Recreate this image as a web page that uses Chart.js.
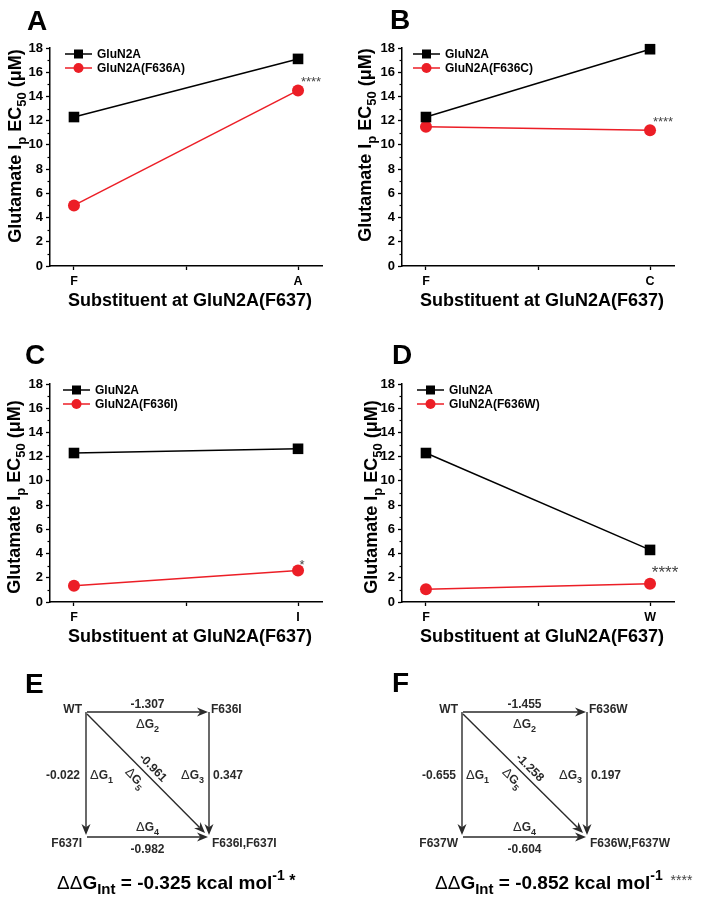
<!DOCTYPE html>
<html>
<head>
<meta charset="utf-8">
<script src="https://cdn.jsdelivr.net/npm/chart.js@4.4.1/dist/chart.umd.min.js"></script>
<style>
	body { margin: 0; background: #fff; }
	#fig { position: relative; width: 704px; height: 901px; background: #fff; overflow: hidden; }
	#fig canvas { position: absolute; }
</style>
</head>
<body>
<div id="fig">
	<canvas id="pA" width="352" height="310" style="left:0;top:0"></canvas>
	<canvas id="pB" width="352" height="310" style="left:352px;top:0"></canvas>
	<canvas id="pC" width="352" height="310" style="left:0;top:336px"></canvas>
	<canvas id="pD" width="352" height="310" style="left:352px;top:336px"></canvas>
	<canvas id="pE" width="352" height="251" style="left:0;top:650px"></canvas>
	<canvas id="pF" width="352" height="251" style="left:352px;top:650px"></canvas>
</div>
<script>
// --- Data ---
const panelLetters = ["A", "B", "C", "D", "E", "F"];
const xPositions = [0, 1];
const xTickValues = [0, 0.5, 1];
const substituents = [["F", "A"], ["F", "C"], ["F", "I"], ["F", "W"]];
const wildTypeLabel = "GluN2A";
const wildTypeEC50 = [[12.3, 17.1], [12.3, 17.9], [12.3, 12.65], [12.3, 4.3]];
const mutantLabels = ["GluN2A(F636A)", "GluN2A(F636C)", "GluN2A(F636I)", "GluN2A(F636W)"];
const mutantEC50 = [[5.0, 14.5], [11.5, 11.2], [1.35, 2.6], [1.05, 1.5]];
const significance = [["", "****"], ["", "****"], ["", "*"], ["", "****"]];
const yMin = 0;
const yMax = 18;
const yStep = 2;

// double mutant cycles (E, F): WT, single 636, single 637, double
const cycleNodes = [
	["WT", "F636I", "F637I", "F636I,F637I"],
	["WT", "F636W", "F637W", "F636W,F637W"],
];
// ΔG1..ΔG5 (kcal/mol)
const cycleDeltaG = [
	[-0.022, -1.307, 0.347, -0.982, -0.961],
	[-0.655, -1.455, 0.197, -0.604, -1.258],
];
const ddGInt = [-0.325, -0.852];
const ddGSignificance = ["*", "****"];
// node layout on a unit square: WT top-left, 636 top-right, 637 bottom-left, double bottom-right
const cycleCornerX = [0, 1, 0, 1];
const cycleCornerY = [1, 1, 0, 0];
// [from, to] for ΔG1..ΔG5
const cycleEdges = [[0, 2], [0, 1], [1, 3], [2, 3], [0, 3]];

// --- Styles ---
const FONT = '"Liberation Sans", Arial, Helvetica, sans-serif';
const RED = "rgb(236, 30, 38)";
const INK = "#2a2a2a";
Chart.defaults.font.family = FONT;

const LINE_PANELS = [
	{ id: "pA", letterX: 27, letterY: 30, titleX: 14, titleDy: -11, legendDx: 0, sigDx: 13, sigDy: -12, sigSize: 13 },
	{ id: "pB", letterX: 38, letterY: 29, titleX: 12, titleDy: -12, legendDx: -4, sigDx: 13, sigDy: -12, sigSize: 13 },
	{ id: "pC", letterX: 25, letterY: 28, titleX: 13, titleDy: 4, legendDx: -2, sigDx: 4, sigDy: -9, sigSize: 13 },
	{ id: "pD", letterX: 40, letterY: 28, titleX: 18, titleDy: 4, legendDx: 0, sigDx: 15, sigDy: -16, sigSize: 17 },
];
const CYCLE_PANELS = [
	{ id: "pE", letterX: 25, letterY: 43, pad: { left: 86, right: 143, top: 62, bottom: 64 }, ddgX: 57 },
	{ id: "pF", letterX: 40, letterY: 42, pad: { left: 110, right: 117, top: 62, bottom: 64 }, ddgX: 83 },
];

// --- Helpers ---
function drawRich(ctx, parts, x, y, align) {
	let w = 0;
	parts.forEach((p) => {
		ctx.font = p.font;
		p.w = ctx.measureText(p.text).width;
		w += p.w;
	});
	let cx = align === "center" ? x - w / 2 : align === "right" ? x - w : x;
	ctx.textAlign = "left";
	ctx.textBaseline = "alphabetic";
	parts.forEach((p) => {
		ctx.font = p.font;
		ctx.fillStyle = p.color || ctx.fillStyle;
		ctx.fillText(p.text, cx, y + (p.dy || 0));
		cx += p.w;
	});
}

function seg(ctx, x1, y1, x2, y2) {
	ctx.beginPath();
	ctx.moveTo(x1, y1);
	ctx.lineTo(x2, y2);
	ctx.stroke();
}

function arrow(ctx, x1, y1, x2, y2) {
	const a = Math.atan2(y2 - y1, x2 - x1);
	const len = 11, half = 4.5;
	const c = Math.cos(a), s = Math.sin(a);
	seg(ctx, x1, y1, x2 - len * 0.7 * c, y2 - len * 0.7 * s);
	ctx.beginPath();
	ctx.moveTo(x2, y2);
	ctx.lineTo(x2 - len * c + half * s, y2 - len * s - half * c);
	ctx.lineTo(x2 - len * 0.7 * c, y2 - len * 0.7 * s);
	ctx.lineTo(x2 - len * c - half * s, y2 - len * s + half * c);
	ctx.closePath();
	ctx.fill();
}

function deltaG(n) {
	return [
		{ text: "Δ", font: `13px ${FONT}` },
		{ text: "G", font: `bold 12px ${FONT}` },
		{ text: String(n), font: `bold 9px ${FONT}`, dy: 4 },
	];
}

function bold12(t) {
	return [{ text: t, font: `bold 12px ${FONT}` }];
}

// --- Line panels (A-D) ---
const linePanelDecor = {
	id: "linePanelDecor",
	afterDraw(chart, args, opts) {
		const { ctx, chartArea, scales } = chart;
		const i = opts.index;
		const p = LINE_PANELS[i];
		ctx.save();

		// minor ticks on y
		ctx.strokeStyle = "#000";
		ctx.lineWidth = 1.2;
		for (let v = yMin + yStep / 2; v < yMax; v += yStep) {
			const y = Math.round(scales.y.getPixelForValue(v)) + 0.5;
			seg(ctx, chartArea.left - 2.5, y, chartArea.left, y);
		}

		// panel letter
		ctx.fillStyle = "#000";
		ctx.font = `bold 28px ${FONT}`;
		ctx.textAlign = "left";
		ctx.textBaseline = "alphabetic";
		ctx.fillText(panelLetters[i], p.letterX, p.letterY);

		// legend
		chart.data.datasets.forEach((ds, k) => {
			const y = chartArea.top + 6 + k * 14;
			const x0 = chartArea.left + 15 + p.legendDx;
			ctx.strokeStyle = ds.borderColor;
			ctx.lineWidth = 1.5;
			seg(ctx, x0, y, x0 + 27, y);
			ctx.fillStyle = ds.backgroundColor;
			if (ds.pointStyle === "rect") {
				ctx.fillRect(x0 + 13.5 - 4.5, y - 4.5, 9, 9);
			} else {
				ctx.beginPath();
				ctx.arc(x0 + 13.5, y, 5, 0, Math.PI * 2);
				ctx.fill();
			}
			ctx.fillStyle = "#000";
			ctx.font = `bold 12px ${FONT}`;
			ctx.textBaseline = "middle";
			ctx.fillText(ds.label, x0 + 32, y + 0.5);
		});

		// y title with subscripts
		const cy = (chartArea.top + chartArea.bottom) / 2 + p.titleDy;
		ctx.save();
		ctx.translate(p.titleX, cy);
		ctx.rotate(-Math.PI / 2);
		ctx.fillStyle = "#000";
		drawRich(ctx, [
			{ text: "Glutamate I", font: `bold 18px ${FONT}` },
			{ text: "p", font: `bold 13px ${FONT}`, dy: 5 },
			{ text: " EC", font: `bold 18px ${FONT}` },
			{ text: "50", font: `bold 13px ${FONT}`, dy: 5 },
			{ text: " (μM)", font: `bold 18px ${FONT}` },
		], 0, 6.5, "center");
		ctx.restore();

		// x title
		ctx.fillStyle = "#000";
		ctx.font = `bold 18px ${FONT}`;
		ctx.textAlign = "center";
		ctx.textBaseline = "middle";
		ctx.fillText("Substituent at GluN2A(F637)", (chartArea.left + chartArea.right) / 2 + 4, 301);

		// significance stars on mutant series
		const meta = chart.getDatasetMeta(1);
		significance[i].forEach((s, j) => {
			if (!s) return;
			const pt = meta.data[j];
			ctx.fillStyle = "#444";
			ctx.font = `${p.sigSize}px ${FONT}`;
			ctx.textAlign = "center";
			ctx.textBaseline = "alphabetic";
			ctx.fillText(s, pt.x + p.sigDx, pt.y + p.sigDy + p.sigSize * 0.58);
		});
		ctx.restore();
	},
};

function makeLineChart(i) {
	const p = LINE_PANELS[i];
	const subs = substituents[i];
	new Chart(document.getElementById(p.id), {
		type: "line",
		data: {
			datasets: [
				{
					label: wildTypeLabel,
					data: xPositions.map((x, j) => ({ x, y: wildTypeEC50[i][j] })),
					borderColor: "#000",
					backgroundColor: "#000",
					borderWidth: 1.5,
					pointStyle: "rect",
					pointRadius: 7.5,
					pointBorderWidth: 0,
					clip: false,
				},
				{
					label: mutantLabels[i],
					data: xPositions.map((x, j) => ({ x, y: mutantEC50[i][j] })),
					borderColor: RED,
					backgroundColor: RED,
					borderWidth: 1.5,
					pointStyle: "circle",
					pointRadius: 6,
					pointBorderWidth: 0,
					clip: false,
				},
			],
		},
		options: {
			responsive: false,
			animation: false,
			layout: { padding: { top: 48, right: 30, left: 0, bottom: 0 } },
			scales: {
				x: {
					type: "linear",
					min: -0.107,
					max: 1.107,
					afterBuildTicks: (s) => {
						s.ticks = xTickValues.map((v) => ({ value: v }));
					},
					afterFit: (s) => {
						s.height = 44;
					},
					ticks: {
						autoSkip: false,
						maxRotation: 0,
						color: "#000",
						font: { size: 12.5, weight: "bold" },
						padding: 4,
						callback: (v) => (v === 0 ? subs[0] : v === 1 ? subs[1] : ""),
					},
					grid: { drawOnChartArea: false, tickLength: 4, tickColor: "#000", tickWidth: 1.3 },
					border: { color: "#000", width: 1.5 },
				},
				y: {
					min: yMin,
					max: yMax,
					afterFit: (s) => {
						s.width = 50;
					},
					ticks: {
						stepSize: yStep,
						color: "#000",
						font: { size: 13, weight: "bold" },
						padding: 3,
					},
					grid: { drawOnChartArea: false, tickLength: 4, tickColor: "#000", tickWidth: 1.3 },
					border: { color: "#000", width: 1.5 },
				},
			},
			plugins: {
				legend: { display: false },
				tooltip: { enabled: false },
				linePanelDecor: { index: i },
			},
		},
		plugins: [linePanelDecor],
	});
}

// --- Cycle panels (E-F) ---
const cycleDecor = {
	id: "cycleDecor",
	afterDraw(chart, args, opts) {
		const { ctx, scales } = chart;
		const k = opts.index;
		const p = CYCLE_PANELS[k];
		const nodes = cycleNodes[k];
		const dG = cycleDeltaG[k];
		const px = cycleCornerX.map((v) => scales.x.getPixelForValue(v));
		const py = cycleCornerY.map((v) => scales.y.getPixelForValue(v));
		const L = px[0], R = px[1], T = py[0], B = py[2];
		const midX = (L + R) / 2, midY = (T + B) / 2;

		ctx.save();
		ctx.fillStyle = "#000";
		ctx.font = `bold 28px ${FONT}`;
		ctx.textAlign = "left";
		ctx.textBaseline = "alphabetic";
		ctx.fillText(panelLetters[4 + k], p.letterX, p.letterY);

		// arrows
		ctx.strokeStyle = INK;
		ctx.fillStyle = INK;
		ctx.lineWidth = 1.4;
		cycleEdges.forEach(([a, b], e) => {
			let x1 = px[a], y1 = py[a], x2 = px[b], y2 = py[b];
			if (e === 4) {
				x1 += 1; y1 += 2; x2 -= 4; y2 -= 4;
			} else if (y1 === y2) {
				x1 += 1; x2 -= 1;
			} else {
				y2 -= 2;
			}
			arrow(ctx, x1, y1, x2, y2);
		});

		// node labels
		ctx.fillStyle = INK;
		drawRich(ctx, bold12(nodes[0]), L - 4, T + 1, "right");
		drawRich(ctx, bold12(nodes[1]), R + 2, T + 1, "left");
		drawRich(ctx, bold12(nodes[2]), L - 4, B + 10, "right");
		drawRich(ctx, bold12(nodes[3]), R + 3, B + 10, "left");

		const fmt = (v) => v.toFixed(3);
		// ΔG1 (left)
		drawRich(ctx, bold12(fmt(dG[0])), L - 6, midY + 4, "right");
		drawRich(ctx, deltaG(1), L + 4, midY + 4, "left");
		// ΔG2 (top)
		drawRich(ctx, bold12(fmt(dG[1])), midX, T - 4, "center");
		drawRich(ctx, deltaG(2), midX, T + 16, "center");
		// ΔG3 (right)
		drawRich(ctx, deltaG(3), R - 5, midY + 4, "right");
		drawRich(ctx, bold12(fmt(dG[2])), R + 4, midY + 4, "left");
		// ΔG4 (bottom)
		drawRich(ctx, deltaG(4), midX, B - 6, "center");
		drawRich(ctx, bold12(fmt(dG[3])), midX, B + 16, "center");
		// ΔG5 (diagonal, rotated)
		const ang = Math.atan2(B - T, R - L);
		const dx = Math.cos(ang), dy = Math.sin(ang);
		const nx = Math.sin(ang), ny = -Math.cos(ang);
		ctx.save();
		ctx.translate(midX + nx * 9 - dx * 1, midY + ny * 9 - dy * 1);
		ctx.rotate(ang);
		drawRich(ctx, bold12(fmt(dG[4])), 0, 4, "center");
		ctx.restore();
		ctx.save();
		ctx.translate(midX - nx * 11 - dx * 6, midY - ny * 11 - dy * 6);
		ctx.rotate(ang);
		drawRich(ctx, deltaG(5), 0, 4, "center");
		ctx.restore();

		// ΔΔG interaction line
		ctx.fillStyle = "#000";
		const parts = [
			{ text: "ΔΔ", font: `19px ${FONT}` },
			{ text: "G", font: `bold 19px ${FONT}` },
			{ text: "Int", font: `bold 15px ${FONT}`, dy: 5 },
			{ text: " = " + fmt(ddGInt[k]) + " kcal mol", font: `bold 19px ${FONT}` },
			{ text: "-1", font: `bold 14px ${FONT}`, dy: -9 },
		];
		if (k === 0) {
			parts.push({ text: " " + ddGSignificance[k], font: `bold 16px ${FONT}`, dy: -3 });
		} else {
			parts.push({ text: "  " + ddGSignificance[k], font: `14px ${FONT}`, dy: -4, color: "#444" });
		}
		drawRich(ctx, parts, p.ddgX, 239, "left");
		ctx.restore();
	},
};

function makeCycleChart(k) {
	const p = CYCLE_PANELS[k];
	new Chart(document.getElementById(p.id), {
		type: "scatter",
		data: {
			datasets: [
				{
					data: cycleCornerX.map((x, j) => ({ x, y: cycleCornerY[j] })),
					pointRadius: 0,
				},
			],
		},
		options: {
			responsive: false,
			animation: false,
			layout: { padding: p.pad },
			scales: {
				x: { display: false, min: 0, max: 1 },
				y: { display: false, min: 0, max: 1 },
			},
			plugins: {
				legend: { display: false },
				tooltip: { enabled: false },
				cycleDecor: { index: k },
			},
		},
		plugins: [cycleDecor],
	});
}

// --- Render ---
[0, 1, 2, 3].forEach(makeLineChart);
[0, 1].forEach(makeCycleChart);
</script>
</body>
</html>
